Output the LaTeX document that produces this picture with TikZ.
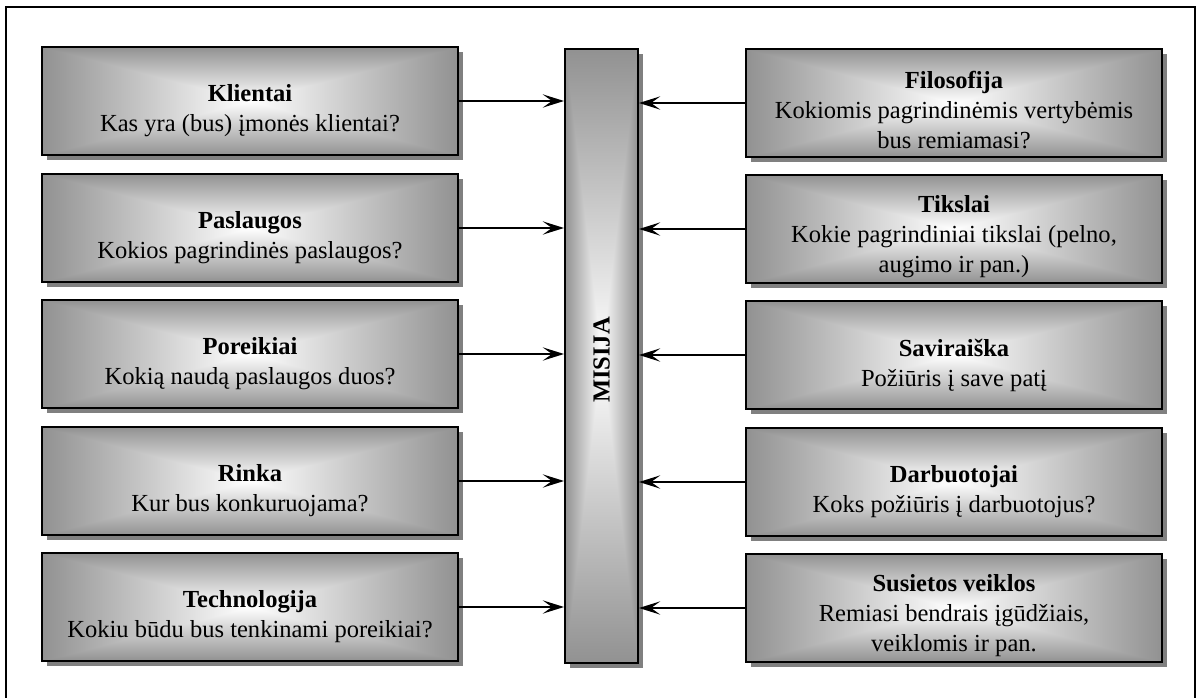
\documentclass[tikz,border=0pt]{standalone}
\usepackage{fontspec}
\setmainfont{Liberation Serif}
\usetikzlibrary{arrows.meta}

% light centre fading to grey towards every edge (rectangular glow);
% the central 50bp square is what gets stretched over the shaded path
\pgfdeclarefunctionalshading{boxglow}{\pgfpoint{-50bp}{-50bp}}{\pgfpoint{50bp}{50bp}}{}{%
  abs exch abs 2 copy lt {exch} if pop 25 div dup 1 gt {pop 1} if
  0.43 mul 1 exch sub dup dup
}

\tikzset{
  glowfill/.style={path picture={\shade[shading=boxglow]
      (path picture bounding box.south west) rectangle (path picture bounding box.north east);}},
  castshadow/.style={preaction={fill=black!50, transform canvas={xshift=3.75pt, yshift=-3.75pt}}},
  panel/.style={draw=black, line width=1.5pt, castshadow, glowfill, inner sep=0pt,
    minimum width=312pt, minimum height=81pt},
  mission/.style={draw=black, line width=1.5pt, castshadow, glowfill, inner sep=0pt,
    minimum width=54.75pt, minimum height=460.5pt},
  caption/.style={align=center, inner sep=0pt, font=\fontsize{18.4}{22.5}\selectfont},
  arr/.style={line width=1.1pt, -{Stealth[length=16pt, width=10pt, inset=7pt]}},
}

\begin{document}
\begin{tikzpicture}[x=0.75pt, y=-0.75pt]
\useasboundingbox (0,0) rectangle (1200,698);

% outer frame, open at the bottom
\draw[line width=1.5pt] (6,720) -- (6,7) -- (1195,7) -- (1195,720);

% central bar
\node[mission] (bar) at (601.5,356) {};
\node[rotate=90, font=\fontsize{18.4}{22.5}\selectfont\bfseries] (barlabel) at (601.5,360) {MISIJA};

% left column
\node[panel] (L1) at (250,101) {};
\node[panel] (L2) at (250,228) {};
\node[panel] (L3) at (250,354) {};
\node[panel] (L4) at (250,481) {};
\node[panel] (L5) at (250,607) {};

\node[caption] (L1t) at ([yshift=-7.5pt]L1.center) {\textbf{Klientai}\\Kas yra (bus) įmonės klientai?};
\node[caption] (L2t) at ([yshift=-7.5pt]L2.center) {\textbf{Paslaugos}\\Kokios pagrindinės paslaugos?};
\node[caption] (L3t) at ([yshift=-7.5pt]L3.center) {\textbf{Poreikiai}\\Kokią naudą paslaugos duos?};
\node[caption] (L4t) at ([yshift=-7.5pt]L4.center) {\textbf{Rinka}\\Kur bus konkuruojama?};
\node[caption] (L5t) at ([yshift=-7.5pt]L5.center) {\textbf{Technologija}\\Kokiu būdu bus tenkinami poreikiai?};

% right column
\node[panel] (R1) at (954,103) {};
\node[panel] (R2) at (954,229) {};
\node[panel] (R3) at (954,355) {};
\node[panel] (R4) at (954,482) {};
\node[panel] (R5) at (954,608) {};

\node[caption] (R1t) at ([yshift=-5.5pt]R1.center) {\textbf{Filosofija}\\Kokiomis pagrindinėmis vertybėmis\\bus remiamasi?};
\node[caption] (R2t) at ([yshift=-5.5pt]R2.center) {\textbf{Tikslai}\\Kokie pagrindiniai tikslai (pelno,\\augimo ir pan.)};
\node[caption] (R3t) at ([yshift=-7.5pt]R3.center) {\textbf{Saviraiška}\\Požiūris į save patį};
\node[caption] (R4t) at ([yshift=-7.5pt]R4.center) {\textbf{Darbuotojai}\\Koks požiūris į darbuotojus?};
\node[caption] (R5t) at ([yshift=-5.5pt]R5.center) {\textbf{Susietos veiklos}\\Remiasi bendrais įgūdžiais,\\veiklomis ir pan.};

% connectors into the bar
\foreach \n in {1,...,5} {
  \draw[arr] (L\n.east) -- (L\n.east -| bar.west);
  \draw[arr] (R\n.west) -- (R\n.west -| bar.east);
}
\end{tikzpicture}
\end{document}
